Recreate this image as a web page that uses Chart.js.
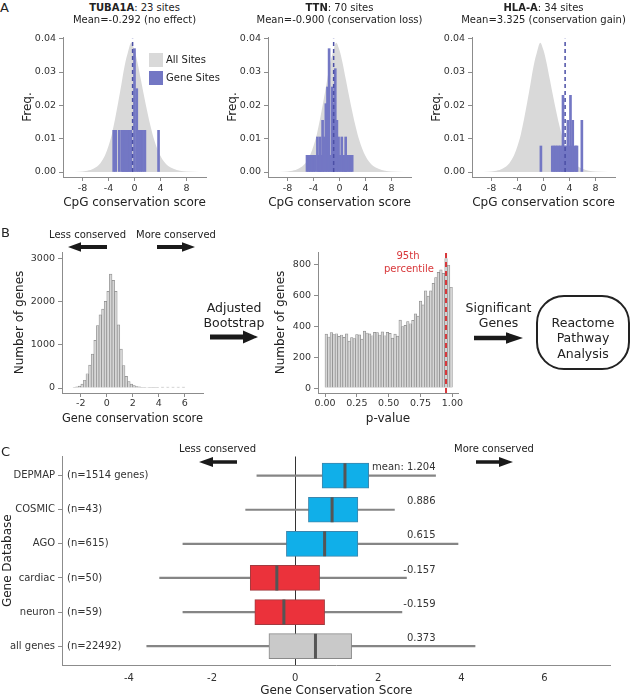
<!DOCTYPE html>
<html>
<head>
<meta charset="utf-8">
<title>CpG conservation figure</title>
<script src="https://cdn.jsdelivr.net/npm/chart.js@4.4.1/dist/chart.umd.min.js"></script>
<style>
  html, body { margin: 0; padding: 0; background: #fff; }
  body { position: relative; width: 633px; height: 696px; overflow: hidden; font-family: "DejaVu Sans", Verdana, sans-serif; color: #222; }
  canvas { position: absolute; }
  svg { position: absolute; left: 0; top: 0; }
  .lbl { position: absolute; white-space: nowrap; line-height: 1.2; transform: translate(-50%, -50%); }
  .key { position: absolute; width: 14px; height: 14px; }
</style>
</head>
<body>
<svg id="deco" width="633" height="696"></svg>
<script>
// ---------- Panel A: site-level score distributions ----------
const siteTicks = [-8, -4, 0, 4, 8];
const freqTicks = [0, 0.01, 0.02, 0.03, 0.04];

// background distribution of all CpG sites (same in all three plots)
const allSitesX = [-10, -8.5, -7.5, -6.5, -5.5, -5, -4.5, -4, -3.5, -3, -2.5, -2, -1.5, -1, -0.5, 0, 0.5, 1, 1.5, 2, 2.5, 3, 3.5, 4, 4.5, 5, 6, 7, 8, 10];
const allSitesY = [0, 0.0001, 0.0003, 0.0008, 0.0021, 0.0034, 0.0052, 0.0078, 0.0112, 0.0158, 0.021, 0.0265, 0.032, 0.036, 0.0388, 0.0365, 0.0325, 0.0275, 0.0225, 0.0178, 0.0135, 0.0098, 0.007, 0.0048, 0.0032, 0.0021, 0.001, 0.0004, 0.00015, 0];

const tubaX = [-3.2, -2.9, -2.35, -1.95, -1.75, -1.55, -1.35, -1.15, -0.95, -0.75, -0.55, 0.0, 0.35, 0.65, 0.95, 1.25, 1.6, 3.7];
const tubaY = [0.0125, 0.0125, 0.0125, 0.0125, 0.0125, 0.0125, 0.0125, 0.0125, 0.0125, 0.0125, 0.0125, 0.037, 0.025, 0.0125, 0.0125, 0.0125, 0.0125, 0.0125];
const tubaMean = -0.292;

const ttnX = [-5.0, -4.75, -4.5, -4.25, -4.0, -3.75, -3.4, -3.2, -3.0, -2.8, -2.6, -2.35, -2.1, -1.85, -1.6, -1.35, -1.1, -0.9, -0.65, -0.4, -0.15, 0.1, 0.35, 0.6, 0.8, 0.95, 1.2, 1.45, 1.7, 1.95];
const ttnY = [0.005, 0.005, 0.005, 0.005, 0.005, 0.005, 0.0105, 0.005, 0.0105, 0.005, 0.0155, 0.0105, 0.0205, 0.0255, 0.037, 0.005, 0.0255, 0.0205, 0.031, 0.0155, 0.0105, 0.005, 0.0105, 0.005, 0.005, 0.0105, 0.005, 0.005, 0.005, 0.005];
const ttnMean = -0.9;

const hlaX = [-0.4, 1.35, 1.6, 1.85, 2.1, 2.35, 2.6, 2.85, 3.0, 3.25, 3.5, 3.75, 4.0, 4.15, 4.35, 4.5, 4.75, 5.0, 5.15, 5.9];
const hlaY = [0.0078, 0.0078, 0.0078, 0.0078, 0.0078, 0.0078, 0.0078, 0.0078, 0.023, 0.0078, 0.0078, 0.0155, 0.0078, 0.023, 0.0078, 0.0155, 0.0078, 0.0078, 0.0078, 0.0155];
const hlaMean = 3.325;

// ---------- Panel B: gene scores and bootstrap p-values ----------
const geneScoreTicks = [-2, 0, 2, 4, 6];
const geneCountTicks = [0, 1000, 2000, 3000];
const geneScoreBins = [-2.5, -2.3, -2.1, -1.9, -1.7, -1.5, -1.3, -1.1, -0.9, -0.7, -0.5, -0.3, -0.1, 0.1, 0.3, 0.5, 0.7, 0.9, 1.1, 1.3, 1.5, 1.7, 1.9, 2.1, 2.3, 2.5, 2.7, 2.9, 3.1, 3.3, 3.5, 3.7, 3.9, 4.3, 4.7, 5.1, 5.5, 5.9];
const geneScoreCounts = [15, 25, 45, 90, 180, 330, 530, 785, 1100, 1440, 1690, 1820, 2000, 2230, 2630, 2485, 2230, 1460, 900, 520, 270, 150, 90, 55, 35, 25, 18, 14, 12, 10, 10, 10, 10, 20, 20, 20, 20, 20];

const pValueTicks = [0, 0.25, 0.5, 0.75, 1];
const pCountTicks = [0, 200, 400, 600, 800];
const pValueBins = [0.01, 0.03, 0.05, 0.07, 0.09, 0.11, 0.13, 0.15, 0.17, 0.19, 0.21, 0.23, 0.25, 0.27, 0.29, 0.31, 0.33, 0.35, 0.37, 0.39, 0.41, 0.43, 0.45, 0.47, 0.49, 0.51, 0.53, 0.55, 0.57, 0.59, 0.61, 0.63, 0.65, 0.67, 0.69, 0.71, 0.73, 0.75, 0.77, 0.79, 0.81, 0.83, 0.85, 0.87, 0.89, 0.91, 0.93, 0.95, 0.97, 0.99];
const pValueCounts = [350, 332, 360, 348, 353, 336, 345, 330, 352, 305, 328, 322, 348, 346, 318, 370, 358, 352, 340, 362, 360, 345, 365, 340, 362, 356, 325, 350, 338, 442, 400, 408, 432, 418, 440, 482, 468, 565, 540, 632, 598, 632, 680, 718, 752, 768, 745, 842, 798, 655];
const percentile95 = 0.95;

// ---------- Panel C: gene databases ----------
const dbNames = ['DEPMAP', 'COSMIC', 'AGO', 'cardiac', 'neuron', 'all genes'];
const dbCounts = ['(n=1514 genes)', '(n=43)', '(n=615)', '(n=50)', '(n=59)', '(n=22492)'];
const dbMeans = [1.204, 0.886, 0.615, -0.157, -0.159, 0.373];
const whiskerLow = [-0.92, -1.19, -2.70, -3.26, -2.70, -3.57];
const q1 = [0.65, 0.32, -0.21, -1.08, -0.97, -0.63];
const median = [1.20, 0.89, 0.71, -0.44, -0.27, 0.49];
const q3 = [1.77, 1.51, 1.51, 0.59, 0.71, 1.36];
const whiskerHigh = [3.38, 2.39, 3.92, 2.68, 2.57, 4.33];
const scoreTicks = [-4, -2, 0, 2, 4, 6];

// ---------- helpers ----------
const AXIS_GREY = '#8c8c8c';
const TEXT = '#333';

Chart.defaults.font.family = '"DejaVu Sans", Verdana, sans-serif';
Chart.defaults.color = TEXT;
Chart.defaults.animation = false;
Chart.defaults.responsive = false;
Chart.defaults.plugins.legend.display = false;
Chart.defaults.plugins.tooltip.enabled = false;

function pairs(xs, ys) {
  return xs.map((x, i) => ({ x: x, y: ys[i] }));
}

function makeCanvas(left, top, width, height) {
  const c = document.createElement('canvas');
  c.width = width;
  c.height = height;
  c.style.left = left + 'px';
  c.style.top = top + 'px';
  c.style.width = width + 'px';
  c.style.height = height + 'px';
  document.body.appendChild(c);
  return c;
}

// linear axis with a fixed box size so plot areas line up with the figure
function linearAxis(o) {
  return {
    type: 'linear',
    offset: false,
    reverse: !!o.reverse,
    min: o.min,
    max: o.max,
    z: o.z || 0,
    afterFit(s) {
      if (s.isHorizontal()) s.height = o.size; else s.width = o.size;
    },
    afterBuildTicks(s) {
      s.ticks = o.ticks.map(v => ({ value: v }));
    },
    border: { display: true, color: AXIS_GREY, width: 1 },
    grid: o.grid || { display: true, offset: false, drawOnChartArea: false, drawTicks: true, tickLength: 4, color: AXIS_GREY },
    ticks: {
      autoSkip: false,
      maxRotation: 0,
      font: { size: o.tickSize || 9.5 },
      color: TEXT,
      padding: o.tickPad != null ? o.tickPad : 3,
      callback: o.format || (v => String(v)),
    },
    title: {
      display: !!o.title,
      text: o.title,
      color: '#222',
      font: { size: o.titleSize || 12 },
      padding: { top: o.titlePad || 0, bottom: o.titlePad || 0 },
    },
  };
}

function addText(html, x, y, opts) {
  opts = opts || {};
  const d = document.createElement('div');
  d.className = 'lbl';
  d.innerHTML = html;
  d.style.left = x + 'px';
  d.style.top = y + 'px';
  d.style.fontSize = (opts.size || 10) + 'px';
  if (opts.color) d.style.color = opts.color;
  if (opts.left) d.style.transform = 'translate(0, -50%)';
  document.body.appendChild(d);
}

// ---------- Panel A charts ----------
function siteChart(left, geneX, geneY, mean) {
  const canvas = makeCanvas(left, 25, 212, 185);
  return new Chart(canvas, {
    type: 'bar',
    data: {
      datasets: [
        {
          type: 'line', label: 'All Sites', data: pairs(allSitesX, allSitesY),
          fill: 'origin', backgroundColor: '#d9d9d9', borderColor: 'rgba(0,0,0,0)', borderWidth: 0,
          pointRadius: 0, cubicInterpolationMode: 'monotone', order: 3,
        },
        {
          type: 'bar', label: 'Gene Sites', data: pairs(geneX, geneY),
          backgroundColor: '#7377c4', barThickness: 2, order: 2,
        },
        {
          type: 'line', label: 'Mean', data: pairs([mean, mean], [0, 0.04]),
          borderColor: '#4b4fa6', borderWidth: 1.5, borderDash: [4, 3], pointRadius: 0, fill: false, order: 1,
        },
      ],
    },
    options: {
      layout: { padding: { top: 12, right: 6 } },
      scales: {
        x: linearAxis({ min: -11, max: 11, ticks: siteTicks, size: 33, title: 'CpG conservation score', tickPad: 2 }),
        y: linearAxis({ min: -0.0015, max: 0.0405, ticks: freqTicks, size: 63, title: 'Freq.', titlePad: 20.8, format: v => v.toFixed(2) }),
      },
    },
  });
}

siteChart(0, tubaX, tubaY, tubaMean);
siteChart(205, ttnX, ttnY, ttnMean);
siteChart(409, hlaX, hlaY, hlaMean);

// ---------- Panel B charts ----------
const b1 = makeCanvas(0, 240, 211, 186);
new Chart(b1, {
  type: 'bar',
  data: {
    datasets: [{
      label: 'genes', data: pairs(geneScoreBins, geneScoreCounts),
      backgroundColor: '#d6d6d6', borderColor: '#8a8a8a', borderWidth: 0.7,
      barPercentage: 1, categoryPercentage: 1,
    }],
  },
  options: {
    layout: { padding: { top: 12, right: 8 } },
    scales: {
      x: linearAxis({ min: -3.45, max: 7.41, ticks: geneScoreTicks, size: 33, title: 'Gene conservation score', tickPad: 1 }),
      y: linearAxis({ min: -115, max: 3140, ticks: geneCountTicks, size: 62, title: 'Number of genes', titlePad: 12.8 }),
    },
  },
});

const b2 = makeCanvas(256, 240, 214, 186);
new Chart(b2, {
  type: 'bar',
  data: {
    datasets: [
      {
        label: 'genes', data: pairs(pValueBins, pValueCounts),
        backgroundColor: '#d6d6d6', borderColor: '#8a8a8a', borderWidth: 0.7,
        barPercentage: 1, categoryPercentage: 1, order: 2,
      },
      {
        type: 'line', label: '95th percentile', data: pairs([percentile95, percentile95], [-32, 884]),
        borderColor: '#d8373a', borderWidth: 2, borderDash: [5, 4], pointRadius: 0, fill: false, order: 1,
      },
    ],
  },
  options: {
    layout: { padding: { top: 12, right: 12 } },
    scales: {
      x: linearAxis({ min: -0.055, max: 1.044, ticks: pValueTicks, size: 33, title: 'p-value', tickPad: 1, format: v => v.toFixed(2) }),
      y: linearAxis({ min: -32, max: 884, ticks: pCountTicks, size: 62, title: 'Number of genes', titlePad: 17.8 }),
    },
  },
});

// ---------- Panel C chart ----------
const boxFill = ['#10afe9', '#10afe9', '#10afe9', '#eb323b', '#eb323b', '#c9c9c9'];
const boxEdge = ['#3c86ad', '#3c86ad', '#3c86ad', '#a23a3f', '#a23a3f', '#8a8a8a'];
const MEAN_LABEL_X = 3.38;

const boxLabels = {
  id: 'boxLabels',
  afterDatasetsDraw(chart) {
    const { ctx, chartArea } = chart;
    const x = chart.scales.x;
    const y = chart.scales.y;
    ctx.save();
    ctx.font = '10px "DejaVu Sans", Verdana, sans-serif';
    ctx.fillStyle = TEXT;
    ctx.textBaseline = 'middle';
    dbNames.forEach((name, i) => {
      const py = y.getPixelForValue(i);
      ctx.textAlign = 'left';
      ctx.fillText(dbCounts[i], chartArea.left + 5, py);
      ctx.textAlign = 'right';
      const txt = (i === 0 ? 'mean: ' : '') + dbMeans[i].toFixed(3);
      ctx.fillText(txt, x.getPixelForValue(MEAN_LABEL_X), py - 8);
    });
    ctx.restore();
  },
};

const c1 = makeCanvas(0, 441, 626, 257);
new Chart(c1, {
  type: 'bar',
  data: {
    datasets: [
      {
        label: 'whisker', indexAxis: 'y',
        data: dbNames.map((_, i) => ({ x: [whiskerLow[i], whiskerHigh[i]], y: i })),
        backgroundColor: '#858585', barThickness: 1.5, grouped: false, order: 3,
      },
      {
        label: 'IQR', indexAxis: 'y',
        data: dbNames.map((_, i) => ({ x: [q1[i], q3[i]], y: i })),
        backgroundColor: boxFill, borderColor: boxEdge, borderWidth: 1, borderSkipped: false,
        barThickness: 25, grouped: false, order: 2,
      },
      {
        type: 'scatter', label: 'median',
        data: pairs(median, [0, 1, 2, 3, 4, 5]),
        pointStyle: 'line', pointRotation: 90, pointRadius: 12.5, pointBorderWidth: 3, pointBorderColor: '#555',
        order: 1,
      },
    ],
  },
  options: {
    layout: { padding: { top: 12, right: 12 } },
    scales: {
      x: linearAxis({
        min: -5.61, max: 7.59, ticks: scoreTicks, size: 33, z: 1, tickSize: 10, tickPad: 7,
        title: 'Gene Conservation Score',
        grid: {
          display: true, offset: false, drawTicks: false, drawOnChartArea: true,
          color: c => (c.tick && c.tick.value === 0 ? '#333' : 'rgba(0,0,0,0)'),
        },
      }),
      y: linearAxis({
        reverse: true, min: -0.562, max: 5.553, ticks: [0, 1, 2, 3, 4, 5], size: 62,
        title: 'Gene Database', titlePad: 0.8, tickSize: 10, format: v => dbNames[v],
      }),
    },
  },
  plugins: [boxLabels],
});

// ---------- annotations ----------
const svg = document.getElementById('deco');
const SVGNS = 'http://www.w3.org/2000/svg';

function arrow(x1, x2, y, shaft, headLen, headHalf) {
  const dir = Math.sign(x2 - x1);
  const hb = x2 - dir * headLen;
  const pts = [[x1, y - shaft / 2], [hb, y - shaft / 2], [hb, y - headHalf], [x2, y],
               [hb, y + headHalf], [hb, y + shaft / 2], [x1, y + shaft / 2]];
  const p = document.createElementNS(SVGNS, 'polygon');
  p.setAttribute('points', pts.map(q => q.join(',')).join(' '));
  p.setAttribute('fill', '#1a1a1a');
  svg.appendChild(p);
}

arrow(107, 68, 247, 4, 13, 4.8);
arrow(157, 195, 247, 4, 13, 4.8);
arrow(210, 258, 337, 5, 15, 6.5);
arrow(474, 523, 338, 4.5, 17, 5.8);
arrow(237, 199, 462, 3.5, 14, 5);
arrow(476, 513, 462, 3.5, 14, 5);

const box = document.createElementNS(SVGNS, 'rect');
box.setAttribute('x', 537);
box.setAttribute('y', 296);
box.setAttribute('width', 92);
box.setAttribute('height', 73);
box.setAttribute('rx', 27);
box.setAttribute('ry', 27);
box.setAttribute('fill', 'none');
box.setAttribute('stroke', '#222');
box.setAttribute('stroke-width', 2);
svg.appendChild(box);

// panel letters
addText('A', 0, 8, { size: 13, left: true });
addText('B', 1, 233, { size: 13, left: true });
addText('C', 1, 452, { size: 13, left: true });

// panel A titles
addText('<b>TUBA1A</b>: 23 sites', 134.5, 8);
addText('Mean=-0.292 (no effect)', 134.5, 20);
addText('<b>TTN</b>: 70 sites', 339.5, 8);
addText('Mean=-0.900 (conservation loss)', 339.5, 20);
addText('<b>HLA-A</b>: 34 sites', 543.5, 8);
addText('Mean=3.325 (conservation gain)', 543.5, 20);

// legend of the first plot
const k1 = document.createElement('div');
k1.className = 'key';
k1.style.cssText = 'left:149px;top:53px;background:#d9d9d9;';
document.body.appendChild(k1);
const k2 = document.createElement('div');
k2.className = 'key';
k2.style.cssText = 'left:149px;top:71px;background:#7377c4;';
document.body.appendChild(k2);
addText('All Sites', 166, 60, { left: true });
addText('Gene Sites', 166, 78, { left: true });

// panel B texts
addText('Less conserved', 87.5, 235);
addText('More conserved', 176, 235);
addText('Adjusted', 234, 307, { size: 12.5 });
addText('Bootstrap', 234, 322, { size: 12.5 });
addText('95th', 408, 256, { color: '#d8373a' });
addText('percentile', 409, 269, { color: '#d8373a' });
addText('Significant', 498.5, 307, { size: 12.5 });
addText('Genes', 498.5, 322, { size: 12.5 });
addText('Reactome', 583, 322, { size: 12.5 });
addText('Pathway', 583, 337, { size: 12.5 });
addText('Analysis', 583, 353, { size: 12.5 });

// panel C texts
addText('Less conserved', 217.5, 449);
addText('More conserved', 494, 449);
</script>
</body>
</html>
